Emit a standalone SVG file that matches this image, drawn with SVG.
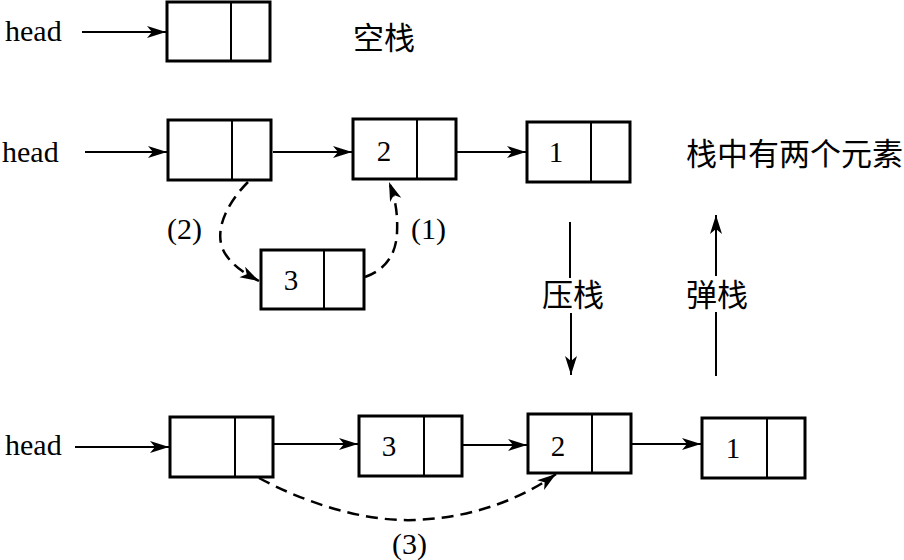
<svg xmlns="http://www.w3.org/2000/svg" width="904" height="560" viewBox="0 0 904 560">
<style>
.box{fill:#fff;stroke:#000;stroke-width:3}
.div{stroke:#000;stroke-width:2}
.t{font-family:"Liberation Serif","Times New Roman",serif;font-size:30px;fill:#000}
.d{font-family:"Liberation Serif","Times New Roman",serif;font-size:29px;fill:#000;text-anchor:middle}
.cjk{font-family:"Liberation Serif","Noto Sans CJK SC",serif;font-size:31px;fill:#000}
.a{stroke:#000;stroke-width:2;fill:none;marker-end:url(#ah)}
.dash{stroke:#000;stroke-width:2.5;fill:none;stroke-dasharray:12 7;marker-end:url(#ah)}
</style>
<defs>
<marker id="ah" markerUnits="userSpaceOnUse" markerWidth="22" markerHeight="14" refX="19" refY="6" orient="auto">
<path d="M0,0 L19,6 L0,12 L5,6 Z" fill="#000"/>
</marker>
</defs>
<rect width="904" height="560" fill="#fff"/>

<g id="labels">
<text class="t" x="5" y="41">head</text>
<text class="cjk" x="353" y="49">空栈</text>
<text class="t" x="2" y="162">head</text>
<text class="cjk" x="686" y="165">栈中有两个元素</text>
<text class="t" x="167" y="239">(2)</text>
<text class="t" x="411" y="239">(1)</text>
<text class="cjk" x="542" y="306">压栈</text>
<text class="cjk" x="686" y="306">弹栈</text>
<text class="t" x="5" y="455">head</text>
<text class="t" x="392" y="554">(3)</text>
</g>

<g id="n0"><rect class="box" x="167" y="2" width="103" height="59"/><line class="div" x1="231" y1="2" x2="231" y2="61"/></g>

<g id="r2a"><rect class="box" x="168" y="120" width="103" height="60"/><line class="div" x1="232" y1="120" x2="232" y2="180"/></g>
<g id="r2b"><rect class="box" x="353" y="119" width="103" height="60"/><line class="div" x1="417" y1="119" x2="417" y2="179"/><text class="d" x="384" y="161">2</text></g>
<g id="r2c"><rect class="box" x="527" y="122" width="103" height="60"/><line class="div" x1="591" y1="122" x2="591" y2="182"/><text class="d" x="556" y="162">1</text></g>
<g id="r2n"><rect class="box" x="261" y="250" width="103" height="59"/><line class="div" x1="324" y1="250" x2="324" y2="309"/><text class="d" x="291" y="290">3</text></g>

<g id="r3a"><rect class="box" x="170" y="417" width="103" height="60"/><line class="div" x1="235" y1="417" x2="235" y2="477"/></g>
<g id="r3b"><rect class="box" x="359" y="416" width="103" height="60"/><line class="div" x1="424" y1="416" x2="424" y2="476"/><text class="d" x="389" y="456">3</text></g>
<g id="r3c"><rect class="box" x="528" y="414" width="103" height="59"/><line class="div" x1="592" y1="414" x2="592" y2="473"/><text class="d" x="558" y="456">2</text></g>
<g id="r3d"><rect class="box" x="702" y="418" width="103" height="60"/><line class="div" x1="767" y1="418" x2="767" y2="478"/><text class="d" x="733" y="458">1</text></g>

<g id="connectors">
<line class="a" x1="82" y1="32" x2="166" y2="32"/>
<line class="a" x1="85" y1="152" x2="167" y2="152"/>
<line class="a" x1="273" y1="152" x2="352" y2="152"/>
<line class="a" x1="457" y1="152" x2="526" y2="152"/>
<path class="dash" d="M248,182 C225,205 212,235 226,255 C235,268 246,274 259,281"/>
<path class="dash" d="M365,277 C385,270 396,255 397,233 C398,212 395,198 389,182"/>
<line class="a" x1="570" y1="222" x2="570" y2="278" style="marker-end:none"/>
<line class="a" x1="571" y1="313" x2="571" y2="375"/>
<line class="a" x1="716" y1="376" x2="716" y2="312" style="marker-end:none"/>
<line class="a" x1="716" y1="276" x2="716" y2="215"/>
<line class="a" x1="75" y1="447" x2="169" y2="447"/>
<line class="a" x1="274" y1="444" x2="358" y2="444"/>
<line class="a" x1="463" y1="445" x2="527" y2="445"/>
<line class="a" x1="632" y1="444" x2="701" y2="444"/>
<path class="dash" d="M259,478 C300,500 360,522 415,520 C470,518 520,500 556,474"/>
</g>
</svg>
